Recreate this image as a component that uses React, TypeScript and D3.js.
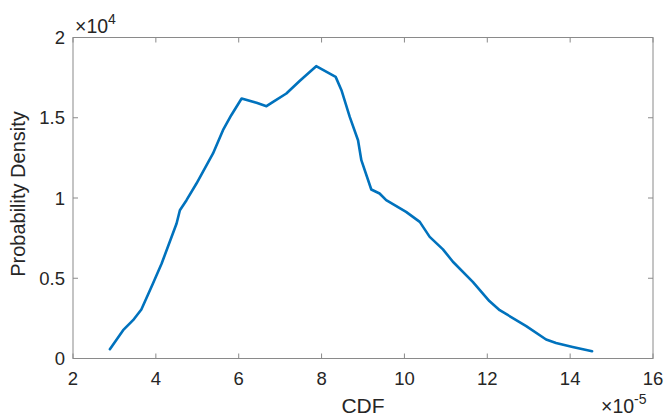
import React from "react";
import * as d3 from "d3";

const cdfValues = [2.89, 3.21, 3.45, 3.65, 3.93, 4.14, 4.5, 4.58, 4.74, 4.98, 5.38, 5.62, 5.82, 6.07, 6.43, 6.67, 6.83, 7.15, 7.47, 7.87, 8.34, 8.48, 8.68, 8.88, 8.96, 9.2, 9.4, 9.56, 10.04, 10.37, 10.61, 10.93, 11.17, 11.65, 12.05, 12.3, 12.94, 13.42, 13.66, 14.06, 14.53];
const densityValues = [580, 1763, 2386, 3053, 4673, 5919, 8411, 9240, 9863, 10903, 12773, 14224, 15159, 16199, 15928, 15720, 15990, 16511, 17290, 18213, 17546, 16716, 15054, 13601, 12355, 10530, 10280, 9863, 9134, 8511, 7577, 6800, 6030, 4773, 3580, 3010, 2020, 1184, 972, 723, 455];
const xTicks = [2, 4, 6, 8, 10, 12, 14, 16];
const yTicks = [0, 0.5, 1, 1.5, 2];

const W = 665, H = 417;
const left = 73, right = 653, top = 37.5, bottom = 358.5;
const font = "'Liberation Sans', Arial, sans-serif";
const axisColor = "#8a8a8a";
const textColor = "#262626";

export default function App() {
  const x = d3.scaleLinear().domain([2, 16]).range([left, right]);
  const y = d3.scaleLinear().domain([0, 20000]).range([bottom, top]);
  const pts = cdfValues.map((c, i) => [c, densityValues[i]] as [number, number]);
  const line = d3.line<[number, number]>().x(d => x(d[0])).y(d => y(d[1]));
  const tl = 5;
  return (
    <svg width={W} height={H} style={{ position: "absolute", left: 0, top: 0, background: "#fff" }}>
      <rect x={0} y={0} width={W} height={H} fill="#fff" />
      <rect x={left} y={top} width={right - left} height={bottom - top} fill="none" stroke={axisColor} strokeWidth={1} />
      {xTicks.map(t => (
        <g key={"x" + t}>
          <line x1={x(t)} x2={x(t)} y1={bottom} y2={bottom - tl} stroke={axisColor} />
          <line x1={x(t)} x2={x(t)} y1={top} y2={top + tl} stroke={axisColor} />
          <text x={x(t)} y={385} fontSize={18.5} fontFamily={font} fill={textColor} textAnchor="middle">{t}</text>
        </g>
      ))}
      {yTicks.map(t => (
        <g key={"y" + t}>
          <line x1={left} x2={left + tl} y1={y(t * 10000)} y2={y(t * 10000)} stroke={axisColor} />
          <line x1={right} x2={right - tl} y1={y(t * 10000)} y2={y(t * 10000)} stroke={axisColor} />
          <text x={65} y={y(t * 10000) + 6.5} fontSize={18.5} fontFamily={font} fill={textColor} textAnchor="end">{t}</text>
        </g>
      ))}
      <path d={line(pts) || ""} fill="none" stroke="#0072BD" strokeWidth={2.6} strokeLinejoin="round" strokeLinecap="round" />
      <text x={(left + right) / 2} y={413} fontSize={21} fontFamily={font} fill={textColor} textAnchor="middle">CDF</text>
      <text transform={`translate(25,${(top + bottom) / 2 - 4}) rotate(-90)`} fontSize={20} fontFamily={font} fill={textColor} textAnchor="middle">Probability Density</text>
      <text x={75} y={33} fontSize={19.5} fontFamily={font} fill={textColor}>×10<tspan dy={-9} fontSize={14}>4</tspan></text>
      <text x={601} y={413} fontSize={19.5} fontFamily={font} fill={textColor}>×10<tspan dy={-9} fontSize={14}>-5</tspan></text>
    </svg>
  );
}
